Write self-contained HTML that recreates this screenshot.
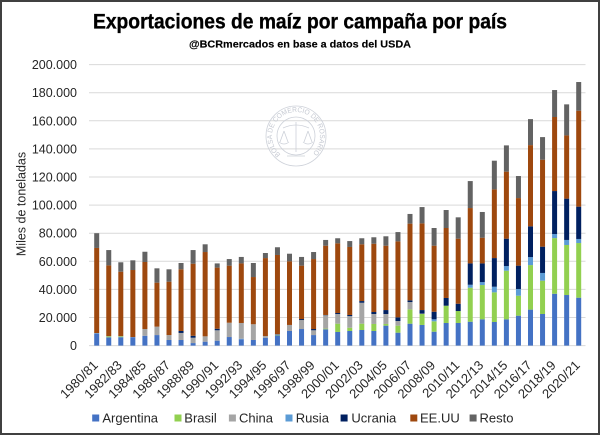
<!DOCTYPE html>
<html>
<head>
<meta charset="utf-8">
<style>
html,body{margin:0;padding:0;background:#fff;}
svg{display:block;font-family:"Liberation Sans",Arial,sans-serif;}
.a{fill:#4472C4}.b{fill:#92D050}.c{fill:#A5A5A5}.r{fill:#5B9BD5}.k{fill:#002060}.u{fill:#9E480E}.o{fill:#636363}
.t{font-size:12.5px;fill:#262626}
.x{font-size:13px;fill:#262626}
.l{font-size:13px;fill:#262626}
</style>
</head>
<body>
<svg width="600" height="435" viewBox="0 0 600 435" xmlns="http://www.w3.org/2000/svg">
<rect x="0" y="0" width="600" height="435" fill="#fff"/>

<!-- Title -->
<text x="93" y="28.3" font-size="21.5" font-weight="bold" fill="#000" stroke="#000" stroke-width="0.35" textLength="414" lengthAdjust="spacingAndGlyphs">Exportaciones de maíz por campaña por país</text>
<text x="189" y="47.5" font-size="10.5" font-weight="bold" fill="#000" stroke="#000" stroke-width="0.15" textLength="222" lengthAdjust="spacingAndGlyphs">@BCRmercados  en base a datos del USDA</text>

<!-- Gridlines -->
<g stroke="#d9d9d9" stroke-width="1">
<line x1="89" x2="585.5" y1="64.6" y2="64.6"/>
<line x1="89" x2="585.5" y1="92.7" y2="92.7"/>
<line x1="89" x2="585.5" y1="120.8" y2="120.8"/>
<line x1="89" x2="585.5" y1="148.9" y2="148.9"/>
<line x1="89" x2="585.5" y1="177.0" y2="177.0"/>
<line x1="89" x2="585.5" y1="205.1" y2="205.1"/>
<line x1="89" x2="585.5" y1="233.2" y2="233.2"/>
<line x1="89" x2="585.5" y1="261.3" y2="261.3"/>
<line x1="89" x2="585.5" y1="289.4" y2="289.4"/>
<line x1="89" x2="585.5" y1="317.5" y2="317.5"/>
<line x1="89" x2="585.5" y1="345.6" y2="345.6"/>
</g>

<!-- Watermark seal -->
<g fill="none" stroke="#cdd1d9" stroke-width="0.8">
<circle cx="296" cy="136" r="30"/>
<circle cx="296" cy="136" r="19"/>
<line x1="296" y1="122" x2="296" y2="152"/>
<path d="M283,128 Q296,122 309,128"/>
<path d="M284,131 L280,142 M284,131 L288,142 M308,131 L304,142 M308,131 L312,142"/>
<path d="M279,142 Q284,146 289,142 M303,142 Q308,146 313,142"/>
<line x1="287" y1="156" x2="305" y2="156"/>
</g>
<defs><path id="seal" d="M280.6,154.4 A24,24 0 1 1 311.4,154.4"/></defs>
<text font-size="7" fill="#c5c9d2"><textPath href="#seal" textLength="115" lengthAdjust="spacingAndGlyphs">BOLSA DE COMERCIO DE ROSARIO</textPath></text>

<!-- Y tick labels -->
<g class="t" text-anchor="end">
<text x="77" y="69.1">200.000</text>
<text x="77" y="97.2">180.000</text>
<text x="77" y="125.3">160.000</text>
<text x="77" y="153.4">140.000</text>
<text x="77" y="181.5">120.000</text>
<text x="77" y="209.6">100.000</text>
<text x="77" y="237.7">80.000</text>
<text x="77" y="265.8">60.000</text>
<text x="77" y="293.9">40.000</text>
<text x="77" y="322.0">20.000</text>
<text x="77" y="350.1">0</text>
</g>
<text class="t" text-anchor="middle" transform="translate(25.5,204) rotate(-90)">Miles de toneladas</text>

<!-- Bars -->
<g transform="translate(94.2,345.6) scale(1,-1.405)"><rect class="a" width="5" y="0" height="8.5"/><rect class="r" width="5" y="8.5" height="0.4"/><rect class="u" width="5" y="8.9" height="60.6"/><rect class="o" width="5" y="69.5" height="10.5"/></g>
<g transform="translate(106.25,345.6) scale(1,-1.405)"><rect class="a" width="5" y="0" height="5.9"/><rect class="b" width="5" y="5.9" height="0.6"/><rect class="c" width="5" y="6.5" height="0.3"/><rect class="u" width="5" y="6.8" height="50.3"/><rect class="o" width="5" y="57.1" height="10.9"/></g>
<g transform="translate(118.3,345.6) scale(1,-1.405)"><rect class="a" width="5" y="0" height="6"/><rect class="b" width="5" y="6" height="0.5"/><rect class="c" width="5" y="6.5" height="0.3"/><rect class="u" width="5" y="6.8" height="45.8"/><rect class="o" width="5" y="52.6" height="6.7"/></g>
<g transform="translate(130.35,345.6) scale(1,-1.405)"><rect class="a" width="5" y="0" height="6"/><rect class="c" width="5" y="6" height="0.1"/><rect class="u" width="5" y="6.1" height="47.7"/><rect class="o" width="5" y="53.8" height="6.9"/></g>
<g transform="translate(142.4,345.6) scale(1,-1.405)"><rect class="a" width="5" y="0" height="7"/><rect class="c" width="5" y="7" height="4.8"/><rect class="u" width="5" y="11.8" height="47.7"/><rect class="o" width="5" y="59.5" height="7.3"/></g>
<g transform="translate(154.45,345.6) scale(1,-1.405)"><rect class="a" width="5" y="0" height="7.5"/><rect class="c" width="5" y="7.5" height="6"/><rect class="u" width="5" y="13.5" height="31.3"/><rect class="o" width="5" y="44.8" height="10.2"/></g>
<g transform="translate(166.5,345.6) scale(1,-1.405)"><rect class="a" width="5" y="0" height="4"/><rect class="c" width="5" y="4" height="3.5"/><rect class="u" width="5" y="7.5" height="38"/><rect class="o" width="5" y="45.5" height="8.8"/></g>
<g transform="translate(178.55,345.6) scale(1,-1.405)"><rect class="a" width="5" y="0" height="4"/><rect class="c" width="5" y="4" height="5"/><rect class="k" width="5" y="9" height="1.4"/><rect class="u" width="5" y="10.4" height="43.9"/><rect class="o" width="5" y="54.3" height="4.5"/></g>
<g transform="translate(190.6,345.6) scale(1,-1.405)"><rect class="a" width="5" y="0" height="1.8"/><rect class="c" width="5" y="1.8" height="3.8"/><rect class="k" width="5" y="5.6" height="1.4"/><rect class="u" width="5" y="7" height="51.3"/><rect class="o" width="5" y="58.3" height="9.7"/></g>
<g transform="translate(202.65,345.6) scale(1,-1.405)"><rect class="a" width="5" y="0" height="2.8"/><rect class="c" width="5" y="2.8" height="3.8"/><rect class="u" width="5" y="6.6" height="60"/><rect class="o" width="5" y="66.6" height="5.5"/></g>
<g transform="translate(214.7,345.6) scale(1,-1.405)"><rect class="a" width="5" y="0" height="3.5"/><rect class="c" width="5" y="3.5" height="7.4"/><rect class="k" width="5" y="10.9" height="1.1"/><rect class="u" width="5" y="12" height="43.5"/><rect class="o" width="5" y="55.5" height="3"/></g>
<g transform="translate(226.75,345.6) scale(1,-1.405)"><rect class="a" width="5" y="0" height="6.1"/><rect class="c" width="5" y="6.1" height="10.2"/><rect class="u" width="5" y="16.3" height="40.6"/><rect class="o" width="5" y="56.9" height="4.7"/></g>
<g transform="translate(238.8,345.6) scale(1,-1.405)"><rect class="a" width="5" y="0" height="4.5"/><rect class="r" width="5" y="4.5" height="0.4"/><rect class="c" width="5" y="4.9" height="11.2"/><rect class="u" width="5" y="16.1" height="42.4"/><rect class="o" width="5" y="58.5" height="4.6"/></g>
<g transform="translate(250.85,345.6) scale(1,-1.405)"><rect class="a" width="5" y="0" height="4"/><rect class="c" width="5" y="4" height="11.2"/><rect class="u" width="5" y="15.2" height="33.6"/><rect class="o" width="5" y="48.8" height="10"/></g>
<g transform="translate(262.9,345.6) scale(1,-1.405)"><rect class="a" width="5" y="0" height="5.6"/><rect class="c" width="5" y="5.6" height="1.2"/><rect class="u" width="5" y="6.8" height="55.5"/><rect class="o" width="5" y="62.3" height="3.6"/></g>
<g transform="translate(274.95,345.6) scale(1,-1.405)"><rect class="a" width="5" y="0" height="7.2"/><rect class="b" width="5" y="7.2" height="0.3"/><rect class="r" width="5" y="7.5" height="0.5"/><rect class="u" width="5" y="8" height="56.5"/><rect class="o" width="5" y="64.5" height="5.5"/></g>
<g transform="translate(287,345.6) scale(1,-1.405)"><rect class="a" width="5" y="0" height="10.4"/><rect class="c" width="5" y="10.4" height="4.3"/><rect class="u" width="5" y="14.7" height="45.3"/><rect class="o" width="5" y="60" height="5.4"/></g>
<g transform="translate(299.05,345.6) scale(1,-1.405)"><rect class="a" width="5" y="0" height="11.8"/><rect class="c" width="5" y="11.8" height="6.4"/><rect class="k" width="5" y="18.2" height="0.7"/><rect class="u" width="5" y="18.9" height="38"/><rect class="o" width="5" y="56.9" height="6.2"/></g>
<g transform="translate(311.1,345.6) scale(1,-1.405)"><rect class="a" width="5" y="0" height="7.5"/><rect class="c" width="5" y="7.5" height="3.4"/><rect class="k" width="5" y="10.9" height="0.9"/><rect class="u" width="5" y="11.8" height="49.8"/><rect class="o" width="5" y="61.6" height="5"/></g>
<g transform="translate(323.15,345.6) scale(1,-1.405)"><rect class="a" width="5" y="0" height="11.6"/><rect class="b" width="5" y="11.6" height="0.5"/><rect class="c" width="5" y="12.1" height="9.5"/><rect class="k" width="5" y="21.6" height="0.2"/><rect class="u" width="5" y="21.8" height="49.3"/><rect class="o" width="5" y="71.1" height="4.1"/></g>
<g transform="translate(335.2,345.6) scale(1,-1.405)"><rect class="a" width="5" y="0" height="9.7"/><rect class="b" width="5" y="9.7" height="5.9"/><rect class="c" width="5" y="15.6" height="6.9"/><rect class="k" width="5" y="22.5" height="0.7"/><rect class="u" width="5" y="23.2" height="49.6"/><rect class="o" width="5" y="72.8" height="3.6"/></g>
<g transform="translate(347.25,345.6) scale(1,-1.405)"><rect class="a" width="5" y="0" height="10.4"/><rect class="b" width="5" y="10.4" height="2.3"/><rect class="c" width="5" y="12.7" height="8.3"/><rect class="k" width="5" y="21" height="0.8"/><rect class="u" width="5" y="21.8" height="48.4"/><rect class="o" width="5" y="70.2" height="4.2"/></g>
<g transform="translate(359.3,345.6) scale(1,-1.405)"><rect class="a" width="5" y="0" height="11.1"/><rect class="b" width="5" y="11.1" height="4.5"/><rect class="c" width="5" y="15.6" height="14.9"/><rect class="k" width="5" y="30.5" height="1.2"/><rect class="u" width="5" y="31.7" height="40.4"/><rect class="o" width="5" y="72.1" height="4.3"/></g>
<g transform="translate(371.35,345.6) scale(1,-1.405)"><rect class="a" width="5" y="0" height="10.4"/><rect class="b" width="5" y="10.4" height="5"/><rect class="c" width="5" y="15.4" height="7.1"/><rect class="k" width="5" y="22.5" height="1.4"/><rect class="u" width="5" y="23.9" height="48.6"/><rect class="o" width="5" y="72.5" height="4.6"/></g>
<g transform="translate(383.4,345.6) scale(1,-1.405)"><rect class="a" width="5" y="0" height="14.2"/><rect class="b" width="5" y="14.2" height="1.2"/><rect class="c" width="5" y="15.4" height="7.1"/><rect class="k" width="5" y="22.5" height="2.8"/><rect class="u" width="5" y="25.3" height="45.8"/><rect class="o" width="5" y="71.1" height="6.7"/></g>
<g transform="translate(395.45,345.6) scale(1,-1.405)"><rect class="a" width="5" y="0" height="9.2"/><rect class="b" width="5" y="9.2" height="5"/><rect class="c" width="5" y="14.2" height="3.3"/><rect class="k" width="5" y="17.5" height="2.6"/><rect class="u" width="5" y="20.1" height="54.1"/><rect class="o" width="5" y="74.2" height="6.6"/></g>
<g transform="translate(407.5,345.6) scale(1,-1.405)"><rect class="a" width="5" y="0" height="15.6"/><rect class="b" width="5" y="15.6" height="10.2"/><rect class="c" width="5" y="25.8" height="5.2"/><rect class="k" width="5" y="31" height="1.2"/><rect class="u" width="5" y="32.2" height="54.6"/><rect class="o" width="5" y="86.8" height="6.9"/></g>
<g transform="translate(419.55,345.6) scale(1,-1.405)"><rect class="a" width="5" y="0" height="14.7"/><rect class="b" width="5" y="14.7" height="7.8"/><rect class="c" width="5" y="22.5" height="0.3"/><rect class="k" width="5" y="22.8" height="2.5"/><rect class="u" width="5" y="25.3" height="61.7"/><rect class="o" width="5" y="87" height="11.6"/></g>
<g transform="translate(431.6,345.6) scale(1,-1.405)"><rect class="a" width="5" y="0" height="9.9"/><rect class="b" width="5" y="9.9" height="7.4"/><rect class="r" width="5" y="17.3" height="1.4"/><rect class="k" width="5" y="18.7" height="5.4"/><rect class="u" width="5" y="24.1" height="47"/><rect class="o" width="5" y="71.1" height="12.6"/></g>
<g transform="translate(443.65,345.6) scale(1,-1.405)"><rect class="a" width="5" y="0" height="16.1"/><rect class="b" width="5" y="16.1" height="12.3"/><rect class="k" width="5" y="28.4" height="5.5"/><rect class="u" width="5" y="33.9" height="49.8"/><rect class="o" width="5" y="83.7" height="12.8"/></g>
<g transform="translate(455.7,345.6) scale(1,-1.405)"><rect class="a" width="5" y="0" height="16.1"/><rect class="b" width="5" y="16.1" height="8.5"/><rect class="k" width="5" y="24.6" height="5.2"/><rect class="u" width="5" y="29.8" height="46.3"/><rect class="o" width="5" y="76.1" height="15.2"/></g>
<g transform="translate(467.75,345.6) scale(1,-1.405)"><rect class="a" width="5" y="0" height="17"/><rect class="b" width="5" y="17" height="24.2"/><rect class="r" width="5" y="41.2" height="2.1"/><rect class="k" width="5" y="43.3" height="15.2"/><rect class="u" width="5" y="58.5" height="39.4"/><rect class="o" width="5" y="97.9" height="19.2"/></g>
<g transform="translate(479.8,345.6) scale(1,-1.405)"><rect class="a" width="5" y="0" height="18.7"/><rect class="b" width="5" y="18.7" height="24.4"/><rect class="r" width="5" y="43.1" height="2.1"/><rect class="k" width="5" y="45.2" height="13.3"/><rect class="u" width="5" y="58.5" height="18.3"/><rect class="o" width="5" y="76.8" height="18.3"/></g>
<g transform="translate(491.85,345.6) scale(1,-1.405)"><rect class="a" width="5" y="0" height="16.8"/><rect class="b" width="5" y="16.8" height="21.1"/><rect class="r" width="5" y="37.9" height="4"/><rect class="k" width="5" y="41.9" height="20.4"/><rect class="u" width="5" y="62.3" height="48.9"/><rect class="o" width="5" y="111.2" height="20.4"/></g>
<g transform="translate(503.9,345.6) scale(1,-1.405)"><rect class="a" width="5" y="0" height="18.7"/><rect class="b" width="5" y="18.7" height="34.6"/><rect class="r" width="5" y="53.3" height="3.3"/><rect class="k" width="5" y="56.6" height="19.5"/><rect class="u" width="5" y="76.1" height="47.7"/><rect class="o" width="5" y="123.8" height="18.7"/></g>
<g transform="translate(515.95,345.6) scale(1,-1.405)"><rect class="a" width="5" y="0" height="21.3"/><rect class="b" width="5" y="21.3" height="14.2"/><rect class="r" width="5" y="35.5" height="4.8"/><rect class="k" width="5" y="40.3" height="16.6"/><rect class="u" width="5" y="56.9" height="48.1"/><rect class="o" width="5" y="105" height="15.7"/></g>
<g transform="translate(528,345.6) scale(1,-1.405)"><rect class="a" width="5" y="0" height="25.6"/><rect class="b" width="5" y="25.6" height="31.7"/><rect class="r" width="5" y="57.3" height="5.7"/><rect class="k" width="5" y="63" height="21.9"/><rect class="u" width="5" y="84.9" height="57.8"/><rect class="o" width="5" y="142.7" height="18.5"/></g>
<g transform="translate(540.05,345.6) scale(1,-1.405)"><rect class="a" width="5" y="0" height="22.5"/><rect class="b" width="5" y="22.5" height="23.7"/><rect class="r" width="5" y="46.2" height="5.5"/><rect class="k" width="5" y="51.7" height="18.7"/><rect class="u" width="5" y="70.4" height="61.9"/><rect class="o" width="5" y="132.3" height="16.1"/></g>
<g transform="translate(552.1,345.6) scale(1,-1.405)"><rect class="a" width="5" y="0" height="36.9"/><rect class="b" width="5" y="36.9" height="39.6"/><rect class="r" width="5" y="76.5" height="2.9"/><rect class="k" width="5" y="79.4" height="30.6"/><rect class="u" width="5" y="110" height="52.7"/><rect class="o" width="5" y="162.7" height="19.2"/></g>
<g transform="translate(564.15,345.6) scale(1,-1.405)"><rect class="a" width="5" y="0" height="36"/><rect class="b" width="5" y="36" height="35.6"/><rect class="r" width="5" y="71.6" height="3.6"/><rect class="k" width="5" y="75.2" height="29.4"/><rect class="u" width="5" y="104.6" height="45"/><rect class="o" width="5" y="149.6" height="22.1"/></g>
<g transform="translate(576.2,345.6) scale(1,-1.405)"><rect class="a" width="5" y="0" height="34.1"/><rect class="b" width="5" y="34.1" height="38.9"/><rect class="r" width="5" y="73" height="2.9"/><rect class="k" width="5" y="75.9" height="23"/><rect class="u" width="5" y="98.9" height="68.3"/><rect class="o" width="5" y="167.2" height="20.4"/></g>

<!-- X labels -->
<g class="x" text-anchor="end">
<text transform="translate(98.7,366) rotate(-45)">1980/81</text>
<text transform="translate(122.8,366) rotate(-45)">1982/83</text>
<text transform="translate(146.9,366) rotate(-45)">1984/85</text>
<text transform="translate(171,366) rotate(-45)">1986/87</text>
<text transform="translate(195.1,366) rotate(-45)">1988/89</text>
<text transform="translate(219.2,366) rotate(-45)">1990/91</text>
<text transform="translate(243.3,366) rotate(-45)">1992/93</text>
<text transform="translate(267.4,366) rotate(-45)">1994/95</text>
<text transform="translate(291.5,366) rotate(-45)">1996/97</text>
<text transform="translate(315.6,366) rotate(-45)">1998/99</text>
<text transform="translate(339.7,366) rotate(-45)">2000/01</text>
<text transform="translate(363.8,366) rotate(-45)">2002/03</text>
<text transform="translate(387.9,366) rotate(-45)">2004/05</text>
<text transform="translate(412,366) rotate(-45)">2006/07</text>
<text transform="translate(436.1,366) rotate(-45)">2008/09</text>
<text transform="translate(460.2,366) rotate(-45)">2010/11</text>
<text transform="translate(484.3,366) rotate(-45)">2012/13</text>
<text transform="translate(508.4,366) rotate(-45)">2014/15</text>
<text transform="translate(532.5,366) rotate(-45)">2016/17</text>
<text transform="translate(556.6,366) rotate(-45)">2018/19</text>
<text transform="translate(580.7,366) rotate(-45)">2020/21</text>
</g>

<!-- Legend -->
<rect class="a" x="92.2" y="414.5" width="7" height="7"/><text class="l" x="102.4" y="422.4">Argentina</text>
<rect class="b" x="174.5" y="414.5" width="7" height="7"/><text class="l" x="184.3" y="422.4">Brasil</text>
<rect class="c" x="228.9" y="414.5" width="7" height="7"/><text class="l" x="239" y="422.4">China</text>
<rect class="r" x="285.5" y="414.5" width="7" height="7"/><text class="l" x="295.7" y="422.4">Rusia</text>
<rect class="k" x="340.6" y="414.5" width="7" height="7"/><text class="l" x="351.4" y="422.4">Ucrania</text>
<rect class="u" x="410.3" y="414.5" width="7" height="7"/><text class="l" x="420" y="422.4">EE.UU</text>
<rect class="o" x="469.6" y="414.5" width="7" height="7"/><text class="l" x="479.5" y="422.4">Resto</text>

<!-- Frame -->
<rect x="1" y="1" width="598" height="433" fill="none" stroke="#404040" stroke-width="2"/>
</svg>
</body>
</html>
